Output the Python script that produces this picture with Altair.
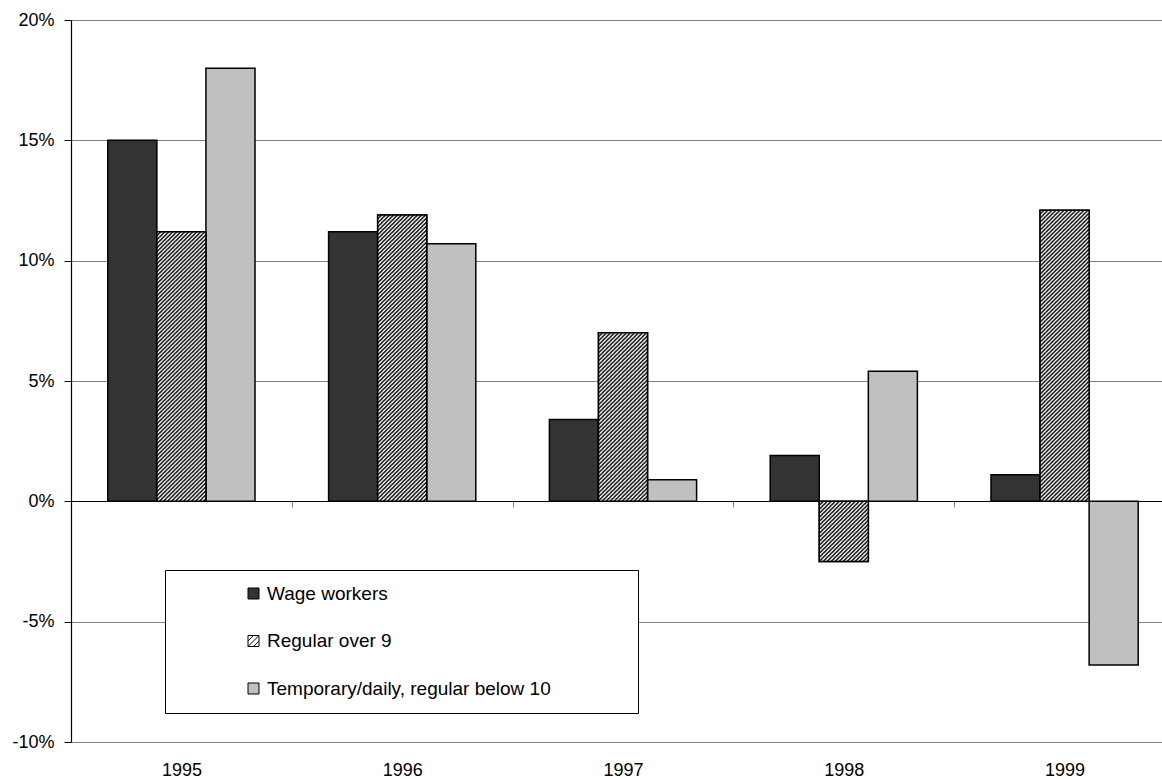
import base64

import altair as alt
import pandas as pd

# Annual change by employment category
years = ["1995", "1996", "1997", "1998", "1999"]
series_names = ["Wage workers", "Regular over 9", "Temporary/daily, regular below 10"]
wage_workers = [15.0, 11.2, 3.4, 1.9, 1.1]
regular_over_9 = [11.2, 11.9, 7.0, -2.5, 12.1]
temporary_daily = [18.0, 10.7, 0.9, 5.4, -6.8]

y_ticks = [-0.10, -0.05, 0.0, 0.05, 0.10, 0.15, 0.20]
fill_colors = ["#333333", "#ffffff", "#c0c0c0"]
edge_colors = ["black", "black", "black"]

rows = []
for name, vals in zip(series_names, [wage_workers, regular_over_9, temporary_daily]):
    for yr, v in zip(years, vals):
        rows.append({"year": yr, "series": name, "value": v / 100})
df = pd.DataFrame(rows)

HATCHED = series_names[1]

# Diagonal hatch tile used to fill the "Regular over 9" bars
HATCH_SVG = (
    '<svg xmlns="http://www.w3.org/2000/svg" width="100%" height="100%">'
    '<defs><pattern id="p" width="4" height="4" patternUnits="userSpaceOnUse">'
    '<rect width="4" height="4" fill="white"/>'
    '<path d="M-1,1L1,-1M0,4L4,0M3,5L5,3" stroke="black" stroke-width="1.4"/>'
    '</pattern></defs><rect width="100%" height="100%" fill="url(#p)"/></svg>'
)
hatch_url = "data:image/svg+xml;base64," + base64.b64encode(HATCH_SVG.encode()).decode()

# Legend swatch for the hatched series: square outline with diagonal strokes
HATCH_SYMBOL = "M-1,-1H1V1H-1Z M-1,0L0,-1 M-1,1L1,-1 M0,1L1,0"
symbol_shapes = ["square", HATCH_SYMBOL, "square"]

FONT = "Liberation Sans"
BAR_STROKE = 1.5

x_enc = alt.X(
    "year:N",
    sort=years,
    title=None,
    scale=alt.Scale(range=[0, 1104], paddingInner=0, paddingOuter=0),
    axis=alt.Axis(
        orient="bottom",
        offset=-241,
        domainColor="black",
        domainWidth=1,
        tickBand="extent",
        tickSize=6,
        tickColor="#808080",
        tickWidth=1,
        labelPadding=254,
        labelFontSize=18,
        labelFont=FONT,
        labelColor="black",
        labelAngle=0,
        grid=False,
    ),
)
xoff_enc = alt.XOffset(
    "series:N",
    scale=alt.Scale(domain=series_names, paddingInner=0, paddingOuter=0.75),
)
y_enc = alt.Y(
    "value:Q",
    title=None,
    scale=alt.Scale(domain=[-0.10, 0.20], nice=False, zero=False),
    axis=alt.Axis(
        values=y_ticks,
        format=".0%",
        labelExpr="(datum.value < 0 ? '-' : '') + format(abs(datum.value), '.0%')",
        domainColor="black",
        domainWidth=1.2,
        tickColor="black",
        tickSize=7,
        labelPadding=10,
        labelFontSize=18,
        labelFont=FONT,
        labelColor="black",
        gridColor="#808080",
        gridWidth=1,
    ),
)

legend = alt.Legend(
    title=" ",
    titleOrient="right",
    titlePadding=73,
    orient="none",
    legendX=94,
    legendY=550,
    fillColor="white",
    strokeColor="black",
    padding=14,
    symbolType="square",
    symbolSize=121,
    symbolOpacity=1,
    symbolStrokeColor="black",
    symbolStrokeWidth=1,
    symbolOffset=65,
    labelOffset=4,
    labelLimit=400,
    labelFontSize=19,
    labelFont=FONT,
    labelColor="black",
    rowPadding=27.5,
)

base = alt.Chart(df)

# Legend carrier: no rows are drawn, it supplies swatch colour, outline and shape
key = (
    base.transform_filter("false")
    .mark_point(filled=True, opacity=1)
    .encode(
        color=alt.Color(
            "series:N",
            scale=alt.Scale(domain=series_names, range=fill_colors),
            legend=legend,
        ),
        stroke=alt.Stroke(
            "series:N",
            scale=alt.Scale(domain=series_names, range=edge_colors),
            legend=legend,
        ),
        shape=alt.Shape(
            "series:N",
            scale=alt.Scale(domain=series_names, range=symbol_shapes),
            legend=legend,
        ),
    )
)

bars = base.mark_bar(stroke="black", strokeWidth=BAR_STROKE).encode(
    x=x_enc,
    xOffset=xoff_enc,
    y=y_enc,
    y2=alt.datum(0),
    fill=alt.Fill(
        "series:N",
        sort=series_names,
        scale=alt.Scale(range=fill_colors),
        legend=None,
    ),
)

hatch = (
    base.transform_filter(alt.datum.series == HATCHED)
    .mark_image(aspect=False)
    .encode(
        x=x_enc,
        xOffset=xoff_enc,
        y=y_enc,
        y2=alt.datum(0),
        url=alt.value(hatch_url),
    )
)

outline = (
    base.transform_filter(alt.datum.series == HATCHED)
    .mark_bar(fill="transparent", stroke="black", strokeWidth=BAR_STROKE)
    .encode(x=x_enc, xOffset=xoff_enc, y=y_enc, y2=alt.datum(0))
)

chart = (
    alt.layer(key, bars, hatch, outline)
    .properties(
        width=1091,
        height=722,
        autosize=alt.AutoSizeParams(type="none"),
        padding={"left": 71, "top": 20, "right": 0, "bottom": 38},
        background="white",
    )
    .configure_view(stroke=None)
)

chart.save("out.html", embed_options={"renderer": "svg", "actions": False})
